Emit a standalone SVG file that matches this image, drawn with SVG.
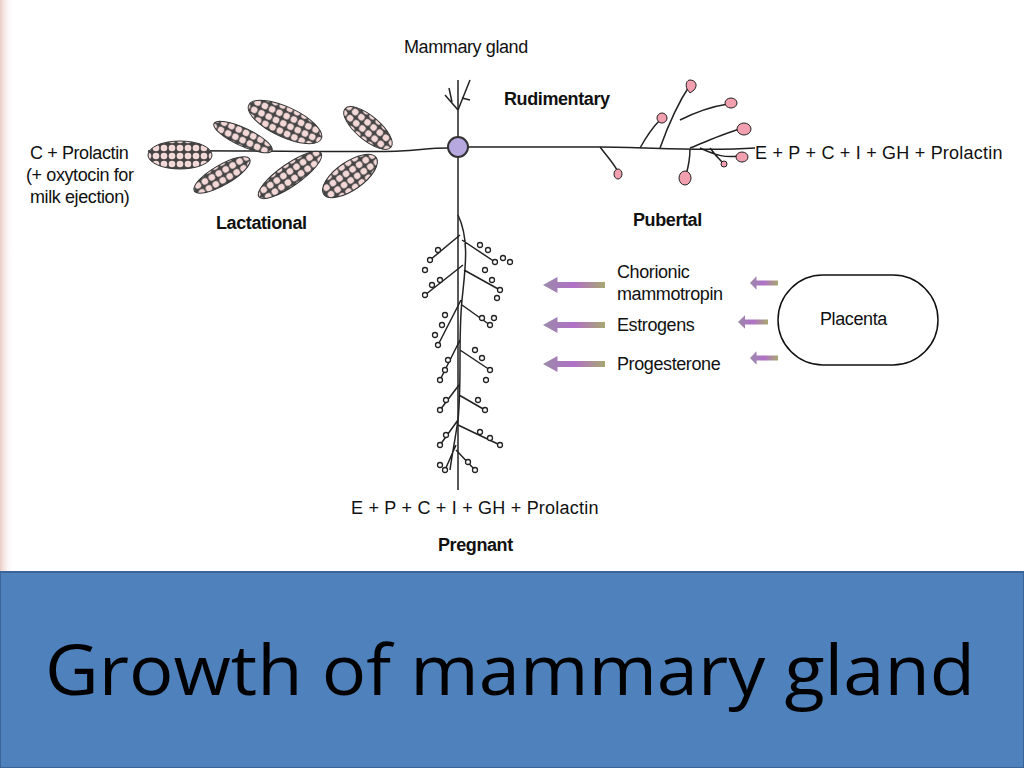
<svg xmlns="http://www.w3.org/2000/svg" width="1024" height="768" viewBox="0 0 1024 768">
<defs>
<style>
.t{font-family:"Liberation Sans",Arial,sans-serif;font-size:18px;fill:#111;letter-spacing:-0.4px}
.b{font-weight:bold}
.ln{fill:none;stroke:#222;stroke-width:1.5}
.cl{fill:url(#dots);stroke:#333;stroke-width:1}
.bud{fill:#f2a0b0;stroke:#222;stroke-width:1}
.pd{fill:#fff;stroke:#222;stroke-width:1.3}
</style>
<pattern id="dots" width="8" height="8" patternUnits="userSpaceOnUse">
<rect width="8" height="8" fill="#444"/>
<circle cx="4" cy="4" r="3.3" fill="#f4d8d8"/>
</pattern>
<linearGradient id="ag" x1="0" x2="1">
<stop offset="0" stop-color="#9a8aa8"/><stop offset="0.5" stop-color="#b070c8"/><stop offset="1" stop-color="#a8a870"/>
</linearGradient>
<linearGradient id="edge" x1="0" x2="1">
<stop offset="0" stop-color="#e0b8ac" stop-opacity="0.7"/><stop offset="1" stop-color="#fff" stop-opacity="0"/>
</linearGradient>
<symbol id="arr" viewBox="0 0 60 14" overflow="visible" preserveAspectRatio="none">
<polygon points="0,7 14,-1 14,4 60,4 60,10 14,10 14,15" fill="url(#ag)"/>
</symbol>
</defs>
<rect width="1024" height="768" fill="#fff"/>
<rect width="14" height="572" fill="url(#edge)"/>

<g id="title-band">
<rect x="0" y="572" width="1024" height="196" fill="#4F81BD" stroke="#3a6599" stroke-width="2"/>
<text x="45" y="695" font-family="'Open Sans','Noto Sans',sans-serif" font-size="70" fill="#000" textLength="930" lengthAdjust="spacingAndGlyphs">Growth of mammary gland</text>
</g>

<g id="connectors">
<path class="ln" d="M458 80 V490"/>
<path class="ln" d="M458 110 L445 95 M458 110 L470 80 M462 98 L470 100 M452 102 L449 88"/>
<path class="ln" d="M148 151 C250 150 350 153 400 151 C420 150 430 148 448 148"/>
<path class="ln" d="M468 147 H600 C650 147 700 152 755 148"/>
</g>

<g id="rudimentary-node">
<circle cx="458" cy="147" r="10" fill="#b8a8e0" stroke="#333" stroke-width="2"/>
<text class="t" x="404" y="53">Mammary gland</text>
<text class="t b" x="504" y="105">Rudimentary</text>
</g>

<g id="lactational">
<ellipse class="cl" cx="180" cy="155" rx="32" ry="14"/>
<ellipse class="cl" cx="243" cy="137" rx="32" ry="9" transform="rotate(25 243 137)"/>
<ellipse class="cl" cx="285" cy="122" rx="40" ry="15" transform="rotate(25 285 122)"/>
<ellipse class="cl" cx="368" cy="128" rx="30" ry="12" transform="rotate(40 368 128)"/>
<ellipse class="cl" cx="222" cy="175" rx="32" ry="10" transform="rotate(-30 222 175)"/>
<ellipse class="cl" cx="290" cy="175" rx="38" ry="11" transform="rotate(-35 290 175)"/>
<ellipse class="cl" cx="350" cy="176" rx="32" ry="14" transform="rotate(-35 350 176)"/>
<text class="t" x="30" y="159">C + Prolactin</text>
<text class="t" x="26" y="181">(+ oxytocin for</text>
<text class="t" x="30" y="203">milk ejection)</text>
<text class="t b" x="216" y="229">Lactational</text>
</g>

<g id="pubertal">
<path class="ln" d="M600 147 C610 160 615 165 618 172 M640 148 C650 130 655 125 660 120 M660 148 C670 120 680 100 690 85 M680 120 C700 110 715 106 728 104 M690 148 C710 140 725 133 740 129 M700 148 C715 155 725 158 738 156 M690 149 C690 160 688 168 686 175 M710 148 C715 155 718 158 722 162"/>
<path class="bud" d="M690 80 c6 0 8 6 4 10 l-4 3 l-3 -4 c-2 -5 0 -9 3 -9z"/>
<ellipse class="bud" cx="731" cy="103" rx="6" ry="5"/>
<ellipse class="bud" cx="744" cy="129" rx="7" ry="6"/>
<ellipse class="bud" cx="662" cy="118" rx="5" ry="5"/>
<ellipse class="bud" cx="742" cy="157" rx="6" ry="5"/>
<ellipse class="bud" cx="685" cy="178" rx="6" ry="7"/>
<ellipse class="bud" cx="618" cy="174" rx="4" ry="5"/>
<ellipse class="bud" cx="724" cy="164" rx="3" ry="3"/>
<text class="t" x="755" y="159" textLength="247">E + P + C + I + GH + Prolactin</text>
<text class="t b" x="633" y="226">Pubertal</text>
</g>

<g id="pregnant">
<path class="ln" d="M458 215 C470 240 465 270 462 300 C458 340 462 380 458 420 C455 440 452 455 450 470 M460 235 L430 260 M462 240 L495 262 M463 265 L425 295 M464 270 L500 290 M461 300 L438 345 M462 305 L490 325 M460 340 L440 380 M460 350 L490 370 M459 385 L440 410 M459 395 L485 410 M458 420 L440 445 M458 425 L500 445 M456 445 L445 470 M456 450 L475 470"/>
<g class="pd">
<circle cx="430" cy="260" r="2.5"/><circle cx="425" cy="270" r="2.5"/><circle cx="438" cy="250" r="2.5"/>
<circle cx="495" cy="262" r="2.5"/><circle cx="503" cy="258" r="2.5"/><circle cx="510" cy="262" r="2.5"/><circle cx="488" cy="250" r="2.5"/><circle cx="480" cy="245" r="2.5"/>
<circle cx="425" cy="295" r="2.5"/><circle cx="432" cy="285" r="2.5"/><circle cx="440" cy="280" r="2.5"/>
<circle cx="500" cy="290" r="2.5"/><circle cx="492" cy="280" r="2.5"/><circle cx="485" cy="270" r="2.5"/><circle cx="497" cy="298" r="2.5"/>
<circle cx="438" cy="345" r="2.5"/><circle cx="435" cy="335" r="2.5"/><circle cx="442" cy="325" r="2.5"/><circle cx="445" cy="315" r="2.5"/>
<circle cx="490" cy="325" r="2.5"/><circle cx="482" cy="318" r="2.5"/><circle cx="494" cy="318" r="2.5"/>
<circle cx="440" cy="380" r="2.5"/><circle cx="445" cy="370" r="2.5"/><circle cx="448" cy="360" r="2.5"/>
<circle cx="490" cy="370" r="2.5"/><circle cx="482" cy="358" r="2.5"/><circle cx="475" cy="350" r="2.5"/><circle cx="486" cy="380" r="2.5"/>
<circle cx="440" cy="410" r="2.5"/><circle cx="446" cy="400" r="2.5"/><circle cx="485" cy="410" r="2.5"/><circle cx="478" cy="400" r="2.5"/>
<circle cx="440" cy="445" r="2.5"/><circle cx="446" cy="435" r="2.5"/><circle cx="500" cy="445" r="2.5"/><circle cx="490" cy="438" r="2.5"/><circle cx="480" cy="432" r="2.5"/>
<circle cx="445" cy="470" r="2.5"/><circle cx="440" cy="465" r="2.5"/><circle cx="475" cy="470" r="2.5"/><circle cx="468" cy="462" r="2.5"/>
</g>
<text class="t" x="351" y="514" textLength="247">E + P + C + I + GH + Prolactin</text>
<text class="t b" x="438" y="551">Pregnant</text>
</g>

<g id="hormones">
<use href="#arr" x="543" y="278" width="62" height="14"/>
<use href="#arr" x="543" y="318" width="62" height="14"/>
<use href="#arr" x="543" y="357" width="62" height="14"/>
<use href="#arr" x="750" y="277" width="28" height="12"/>
<use href="#arr" x="738" y="316" width="30" height="12"/>
<use href="#arr" x="750" y="352" width="28" height="12"/>
<text class="t" x="617" y="278">Chorionic</text>
<text class="t" x="617" y="300">mammotropin</text>
<text class="t" x="617" y="331">Estrogens</text>
<text class="t" x="617" y="370">Progesterone</text>
</g>

<g id="placenta">
<rect x="778" y="275" width="160" height="90" rx="45" fill="#fff" stroke="#111" stroke-width="1.5"/>
<text class="t" x="820" y="325">Placenta</text>
</g>
</svg>
